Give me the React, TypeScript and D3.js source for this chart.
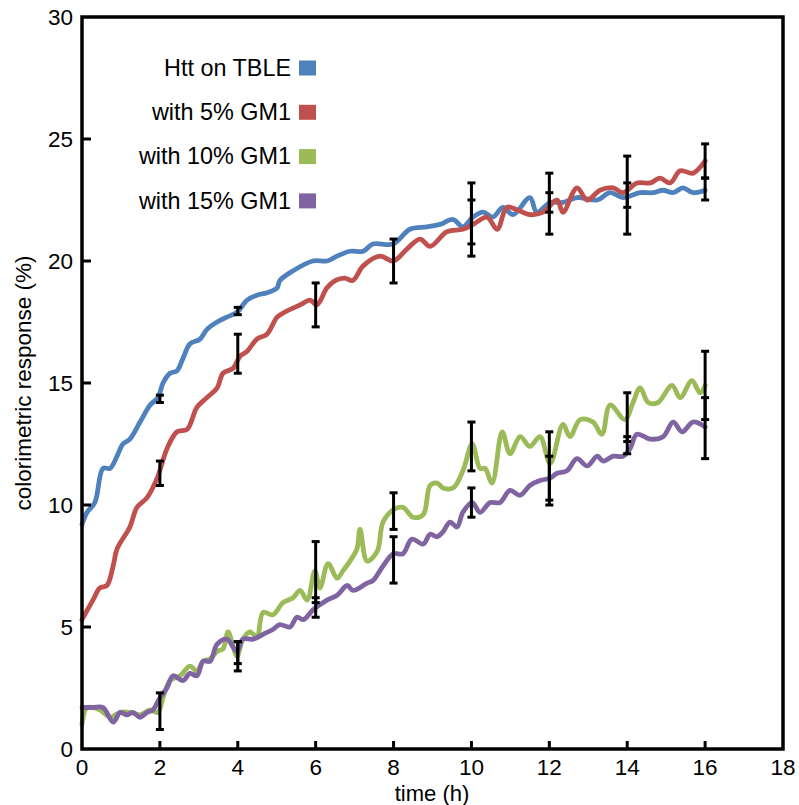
import React from "react";
import * as d3 from "d3";

// ---------- data ----------
const seriesNames = ["Htt on TBLE", "with 5% GM1", "with 10% GM1", "with 15% GM1"];
const seriesColors = ["#4F81BD", "#C0504D", "#9BBB59", "#8064A2"];

const xTicks = [0, 2, 4, 6, 8, 10, 12, 14, 16, 18];
const yTicks = [0, 5, 10, 15, 20, 25, 30];

// [time (h), response (%)]
const httTBLE: [number, number][] = [
  [0, 9.2], [0.13, 9.7], [0.33, 10.1], [0.54, 11.5], [0.72, 11.5], [0.9, 12.0], [1.05, 12.5], [1.23, 12.7],
  [1.49, 13.4], [1.75, 14.1], [1.95, 14.4], [2.08, 15.0], [2.26, 15.4], [2.44, 15.5], [2.59, 16.0], [2.77, 16.6],
  [3.03, 16.8], [3.21, 17.2], [3.47, 17.5], [3.72, 17.7], [3.98, 17.9], [4.24, 18.4], [4.49, 18.6], [4.75, 18.7],
  [5.01, 18.9], [5.08, 19.2], [5.42, 19.6], [5.93, 20.0], [6.29, 20.0], [6.55, 20.2], [6.88, 20.4], [7.22, 20.4],
  [7.47, 20.7], [7.99, 20.7], [8.42, 21.3], [8.86, 21.4], [9.19, 21.5], [9.53, 21.7], [9.78, 21.4], [10.04, 21.8],
  [10.3, 22.0], [10.55, 21.8], [10.81, 22.2], [11.07, 21.9], [11.5, 22.6], [11.68, 22.0], [12.02, 22.4], [12.35, 22.4],
  [12.71, 22.6], [13.23, 22.5], [13.56, 22.8], [13.89, 22.6], [14.33, 22.8], [14.66, 22.8], [14.92, 22.9], [15.18, 22.8],
  [15.43, 23.0], [15.69, 22.8], [16, 22.9],
];
const gm5: [number, number][] = [
  [0, 5.3], [0.28, 6.1], [0.46, 6.6], [0.64, 6.7], [0.8, 7.5], [0.9, 8.2], [1.23, 9.1], [1.41, 9.9],
  [1.67, 10.3], [1.93, 11.1], [2.18, 12.3], [2.44, 13.0], [2.7, 13.1], [2.95, 14.0], [3.21, 14.4], [3.47, 14.8],
  [3.62, 15.4], [3.88, 15.6], [4.06, 16.1], [4.24, 16.3], [4.49, 16.8], [4.75, 17.0], [5.01, 17.7], [5.2, 17.9],
  [5.6, 18.2], [5.86, 18.4], [6.03, 18.2], [6.29, 18.9], [6.5, 19.2], [6.75, 19.3], [6.95, 19.2],
  [7.22, 19.8], [7.65, 20.2], [7.99, 20.0], [8.35, 20.5], [8.68, 20.9], [8.94, 20.6], [9.37, 21.2], [9.78, 21.3],
  [10.04, 21.5], [10.4, 21.8], [10.66, 21.3], [10.91, 22.2], [11.17, 22.1], [11.5, 21.9], [11.84, 22.0], [12.2, 22.5],
  [12.35, 22.0], [12.71, 23.0], [12.97, 22.5], [13.3, 22.9], [13.64, 23.0], [13.89, 22.8], [14.25, 23.2], [14.59, 23.2],
  [14.84, 23.4], [15.1, 23.2], [15.36, 23.7], [15.69, 23.6], [16, 24.1],
];
const gm10: [number, number][] = [
  [0, 1.0], [0.13, 1.7], [0.46, 1.6], [0.72, 1.3], [0.98, 1.5], [1.23, 1.5], [1.49, 1.4], [1.75, 1.6],
  [1.95, 1.5], [2.08, 2.1], [2.26, 2.8], [2.52, 3.0], [2.77, 3.4], [2.95, 3.2], [3.11, 3.6], [3.29, 3.7],
  [3.47, 4.0], [3.62, 4.1], [3.75, 4.8], [3.88, 4.2], [3.98, 3.8], [4.13, 4.5], [4.31, 4.8], [4.49, 4.6],
  [4.65, 5.6], [4.9, 5.5], [5.16, 6.0], [5.42, 6.2], [5.6, 6.5], [5.78, 6.1], [5.98, 7.3], [6.11, 6.6],
  [6.32, 7.6], [6.55, 7.0], [6.7, 7.3], [6.88, 7.7], [7.06, 8.2], [7.14, 9.0], [7.32, 7.7], [7.58, 8.1],
  [7.73, 9.3], [7.99, 9.8], [8.24, 9.9], [8.5, 9.5], [8.76, 9.6], [8.94, 10.8], [9.12, 10.9], [9.27, 10.7],
  [9.53, 10.7], [9.78, 11.4], [10.02, 12.5], [10.22, 11.5], [10.35, 11.5], [10.53, 10.9], [10.79, 13.0], [10.99, 12.1],
  [11.25, 12.8], [11.5, 12.4], [11.76, 12.8], [12.02, 11.7], [12.35, 13.3], [12.53, 12.8], [12.79, 13.5], [13.12, 13.4],
  [13.35, 12.9], [13.56, 14.1], [13.94, 13.5], [14.15, 14.2], [14.33, 14.8], [14.54, 14.2], [14.79, 14.2], [15.15, 14.9],
  [15.36, 14.4], [15.66, 15.1], [15.87, 14.6], [16, 14.9],
];
const gm15: [number, number][] = [
  [0, 1.7], [0.28, 1.7], [0.54, 1.7], [0.8, 1.1], [0.98, 1.5], [1.16, 1.4], [1.31, 1.5], [1.49, 1.3],
  [1.67, 1.5], [1.82, 1.6], [2.0, 2.1], [2.18, 2.5], [2.34, 3.0], [2.59, 2.8], [2.77, 3.1], [2.95, 3.0],
  [3.11, 3.6], [3.29, 3.6], [3.47, 4.3], [3.72, 4.5], [3.98, 4.0], [4.13, 4.5], [4.39, 4.5], [4.65, 4.7],
  [4.9, 4.9], [5.08, 5.1], [5.34, 5.0], [5.52, 5.4], [5.68, 5.3], [5.93, 5.7], [6.29, 6.1], [6.55, 6.3],
  [6.81, 6.7], [6.96, 6.5], [7.32, 6.8], [7.47, 6.9], [7.73, 7.5], [7.99, 8.0], [8.24, 8.0], [8.47, 8.6],
  [8.76, 8.4], [8.94, 8.8], [9.12, 8.7], [9.27, 8.9], [9.45, 9.3], [9.63, 9.1], [9.78, 9.7], [10.02, 10.1],
  [10.22, 9.7], [10.48, 10.1], [10.73, 10.1], [10.99, 10.6], [11.25, 10.4], [11.5, 10.8], [11.76, 11.0], [12.02, 11.1],
  [12.2, 11.3], [12.45, 11.4], [12.71, 11.9], [12.97, 11.6], [13.23, 12.0], [13.38, 11.8], [13.64, 12.0], [13.89, 12.0],
  [14.07, 12.3], [14.25, 12.9], [14.59, 12.7], [14.92, 12.8], [15.18, 13.4], [15.41, 13.0], [15.69, 13.4], [16, 13.2],
];

// error bars at errTimes: [low, high] or null
const errTimes = [2, 4, 6, 8, 10, 12, 14, 16];
const errHtt: ([number, number] | null)[] = [[14.2, 14.5], [17.8, 18.1], null, null, [20.2, 23.2], [21.1, 23.6], [21.1, 24.3], [22.5, 23.4]];
const err5: ([number, number] | null)[] = [[10.8, 11.8], [15.4, 17.0], [17.3, 19.1], [19.1, 20.9], [20.7, 22.5], [22.0, 22.8], [22.2, 23.2], [23.4, 24.8]];
const err10: ([number, number] | null)[] = [[0.8, 2.3], [3.2, 4.4], [6.0, 8.5], [9.0, 10.5], [11.4, 13.4], [10.0, 13.0], [12.6, 14.6], [13.5, 16.3]];
const err15: ([number, number] | null)[] = [null, [3.5, 4.4], [5.4, 6.2], [6.8, 8.7], [9.5, 10.7], [10.2, 12.0], [12.1, 12.8], [11.9, 14.4]];

const allSeries = [httTBLE, gm5, gm10, gm15];
const allErrors = [errHtt, err5, err10, err15];

// ---------- chart ----------
const W = 799;
const H = 805;
const font = "Liberation Sans, Arial, sans-serif";

export default function App() {
  const x = d3.scaleLinear().domain([0, 18]).range([82, 783]);
  const y = d3.scaleLinear().domain([0, 30]).range([749, 17]);
  const line = d3
    .line<[number, number]>()
    .x((d) => x(d[0]))
    .y((d) => y(d[1]))
    .curve(d3.curveCatmullRom.alpha(0.5));

  const capW = 4;

  return (
    <svg
      width={W}
      height={H}
      style={{ position: "absolute", left: 0, top: 0, background: "#fff" }}
      fontFamily={font}
    >
      <rect x={0} y={0} width={W} height={H} fill="#fff" />
      {/* series lines */}
      {allSeries.map((s, i) => (
        <path
          key={i}
          d={line(s) || ""}
          fill="none"
          stroke={seriesColors[i]}
          strokeWidth={4.8}
          strokeLinejoin="round"
          strokeLinecap="round"
        />
      ))}
      {/* error bars */}
      {allErrors.map((errs, si) =>
        errs.map((e, j) => {
          if (!e) return null;
          const [lo, hi] = e;
          const cx = x(errTimes[j]);
          return (
            <g key={`${si}-${j}`} stroke="#000" strokeWidth={3}>
              <line x1={cx} x2={cx} y1={y(lo)} y2={y(hi)} />
              <line x1={cx - capW} x2={cx + capW} y1={y(lo)} y2={y(lo)} />
              <line x1={cx - capW} x2={cx + capW} y1={y(hi)} y2={y(hi)} />
            </g>
          );
        })
      )}
      {/* frame */}
      <rect
        x={x(0)}
        y={y(30)}
        width={x(18) - x(0)}
        height={y(0) - y(30)}
        fill="none"
        stroke="#000"
        strokeWidth={3.5}
      />
      {/* x ticks */}
      {xTicks.map((t) => (
        <g key={`xt${t}`}>
          {t > 0 && t < 18 && (
            <line x1={x(t)} x2={x(t)} y1={y(0)} y2={y(0) - 8} stroke="#000" strokeWidth={3} />
          )}
          <text x={x(t)} y={775} textAnchor="middle" fontSize={22.5} fill="#000">
            {t}
          </text>
        </g>
      ))}
      {/* y ticks */}
      {yTicks.map((t) => (
        <g key={`yt${t}`}>
          {t > 0 && t < 30 && (
            <line x1={x(0)} x2={x(0) + 9} y1={y(t)} y2={y(t)} stroke="#000" strokeWidth={3} />
          )}
          <text x={73} y={y(t) + 8} textAnchor="end" fontSize={22.5} fill="#000">
            {t}
          </text>
        </g>
      ))}
      {/* axis titles */}
      <text x={432} y={801} textAnchor="middle" fontSize={22} fill="#000">
        time (h)
      </text>
      <text
        transform={`translate(31, ${(y(0) + y(30)) / 2}) rotate(-90)`}
        textAnchor="middle"
        fontSize={22.5}
        fill="#000"
      >
        colorimetric response (%)
      </text>
      {/* legend */}
      {seriesNames.map((n, i) => {
        const cy = 68 + i * 44.3;
        return (
          <g key={n}>
            <text x={291} y={cy + 7.8} textAnchor="end" fontSize={23.4} fill="#000">
              {n}
            </text>
            <rect x={299} y={cy - 7.5} width={17} height={15} fill={seriesColors[i]} />
          </g>
        );
      })}
    </svg>
  );
}
